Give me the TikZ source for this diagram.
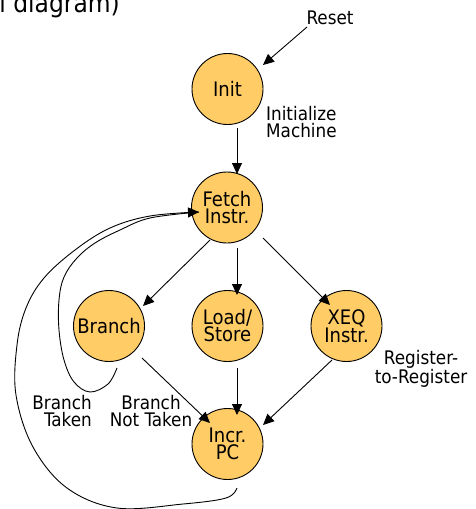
\documentclass[tikz,border=0pt]{standalone}
\usepackage{fontspec}
\setmainfont{DejaVu Sans Condensed}
\usetikzlibrary{arrows.meta,calc}
\definecolor{stfill}{RGB}{255,204,102}
\begin{document}
\begin{tikzpicture}[x=1pt,y=-1pt,
  state/.style={circle,draw=black,line width=0.9pt,fill=stfill,minimum size=71pt,inner sep=0pt,align=center,font=\fontsize{20}{17}\selectfont},
  lbl/.style={inner sep=0pt,font=\fontsize{18.7}{17.3}\selectfont},
  arr/.style={line width=0.9pt,-{Triangle[length=11pt,width=10pt]}},
  loopline/.style={line width=0.9pt}]
\useasboundingbox (0,0) rectangle (476,509);
% states
\node[state] (init) at (227.5,89) {Init};
\node[state] (fetch) at (227,207.5) {Fetch\\Instr.};
\node[state] (branch) at (109,326) {Branch};
\node[state] (load) at (227.5,326) {Load/\\Store};
\node[state] (xeq) at (346.5,326) {XEQ\\Instr.};
\node[state] (incr) at (227.5,444) {Incr.\\PC};
% labels
\node[lbl,anchor=base east,font=\fontsize{26}{26}\selectfont] (title) at (120,12) {l diagram)};
\node[lbl] (reset) at (330,17.5) {Reset};
\node[lbl,align=left,anchor=west] (initlbl) at (266,121.7) {Initialize\\Machine};
\node[lbl,align=right,anchor=east] (bt) at (92,410.7) {Branch\\Taken};
\node[lbl,align=center] (bnt) at (151,410.7) {Branch\\Not Taken};
\node[lbl,align=center] (r2r) at (421,368.5) {Register-\\to-Register};
% straight arrows
\draw[arr] ($(reset)+(-23,9.5)$) -- ($(init)+(35.5,-24)$);
\draw[arr] ($(init)+(9.5,39)$) -- ($(fetch)+(10,-33.5)$);
\draw[arr] ($(fetch)+(-17,32.5)$) -- ($(branch)+(34,-20)$);
\draw[arr] ($(fetch)+(10,40.5)$) -- ($(load)+(9.5,-31)$);
\draw[arr] ($(fetch)+(36,30.5)$) -- ($(xeq)+(-16.5,-21)$);
\draw[arr] ($(branch)+(33,32)$) -- ($(incr)+(-17.5,-21)$);
\draw[arr] ($(load)+(9.5,42)$) -- ($(incr)+(9.5,-29)$);
\draw[arr] ($(xeq)+(-14.5,34)$) -- ($(incr)+(35.5,-19)$);
% loops back to fetch
\coordinate (ostart) at ($(incr)+(9.5,44)$);
\coordinate (istart) at ($(branch)+(8,42)$);
\coordinate (loopend) at ($(fetch)+(-28,4.5)$);
\draw[loopline] plot[smooth,tension=0.6] coordinates {(istart) (108,384) (90,392) (74,382) (64,360) (59,330) (59,300) (64,277) (77,258) (95,243) (120,230) (150,218) (loopend)};
\draw[arr] plot[smooth,tension=0.6] coordinates {(ostart) (226,498) (183,504) (117,508) (67,488) (33,447) (16,395) (17,345) (26,308) (44,278) (75,250) (110,228) (150,216) (loopend)};
\end{tikzpicture}
\end{document}
